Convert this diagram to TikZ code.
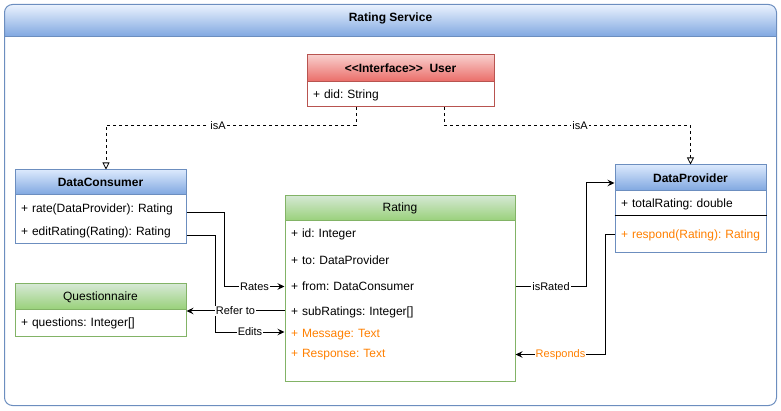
\documentclass[tikz,border=0pt]{standalone}
\usepackage{fontspec}
\setmainfont{Liberation Sans}
\usetikzlibrary{arrows.meta,calc}
\definecolor{bluebd}{HTML}{6C8EBF}
\definecolor{bluetop}{HTML}{DAE8FC}
\definecolor{bluebot}{HTML}{7EA6E0}
\definecolor{greenbd}{HTML}{82B366}
\definecolor{greentop}{HTML}{D5E8D4}
\definecolor{greenbot}{HTML}{97D077}
\definecolor{redbd}{HTML}{B85450}
\definecolor{redtop}{HTML}{F8CECC}
\definecolor{redbot}{HTML}{EA6B66}
\definecolor{orng}{HTML}{FF8000}
\frenchspacing
\begin{document}
\begin{tikzpicture}[x=1pt,y=-1pt,line width=1pt,
  font=\fontsize{12}{14}\selectfont,
  hdr/.style={rectangle,inner sep=0pt},
  bluehdr/.style={hdr,draw=bluebd,top color=bluetop,bottom color=bluebot,font=\fontsize{12}{14}\selectfont\bfseries},
  greenhdr/.style={hdr,draw=greenbd,top color=greentop,bottom color=greenbot},
  redhdr/.style={hdr,draw=redbd,top color=redtop,bottom color=redbot,font=\fontsize{12}{14}\selectfont\bfseries},
  body/.style={rectangle,inner sep=0pt,fill=white},
  row/.style={inner xsep=6pt,inner ysep=0pt,align=left,anchor=center},
  lbl/.style={fill=white,inner sep=1pt,font=\fontsize{11}{13}\selectfont},
  conn/.style={draw=black,line width=1pt,-{Stealth[length=7pt,width=6.5pt,inset=2.5pt]}},
  isa/.style={draw=black,line width=0.8pt,dash pattern=on 3pt off 3pt,-{Triangle[open,length=7pt,width=7pt,line width=0.8pt]}}
]
\useasboundingbox (0,0) rectangle (781,411);
% container
\node[rectangle,inner sep=0pt,fill=white,minimum width=771pt,minimum height=400pt,rounded corners=8pt] (svc) at (390.5,205) {};
\begin{scope}
  \clip[rounded corners=8pt] (svc.north west) rectangle (svc.south east);
  \shade[top color=bluetop!60,bottom color=bluebot] (5,5) rectangle (776,37);
\end{scope}
\draw[bluebd,rounded corners=8pt] (svc.north west) rectangle (svc.south east);
\draw[bluebd] (5,37) -- (776,37);
\node[font=\fontsize{12}{14}\selectfont\bfseries] (title) at (390.5,18) {Rating Service};

% User
\node[redhdr,minimum width=187pt,minimum height=27pt] (uh) at (400.5,68.5) {<\kern0pt<Interface>\kern0pt>\ \ User};
\node[body,draw=redbd,minimum width=187pt,minimum height=25pt] (ub) at (400.5,94.5) {};
\node[row,text width=175pt] (udid) at (400.5,95) {+ did: String};

% DataConsumer
\node[bluehdr,minimum width=171pt,minimum height=25pt] (dch) at (100.5,182.5) {DataConsumer};
\node[body,draw=bluebd,minimum width=171pt,minimum height=49pt] (dcb) at (100.5,219.5) {};
\node[row,text width=159pt] (dcrate) at (100.5,209) {+ rate(DataProvider): Rating};
\node[row,text width=159pt] (dcedit) at (100.5,232.5) {+ editRating(Rating): Rating};

% Questionnaire
\node[greenhdr,minimum width=171pt,minimum height=26pt] (qh) at (100.5,297) {Questionnaire};
\node[body,draw=greenbd,minimum width=171pt,minimum height=26pt] (qb) at (100.5,323) {};
\node[row,text width=159pt] (qrow) at (100.5,323) {+ questions: Integer[]};

% DataProvider
\node[bluehdr,minimum width=151pt,minimum height=26pt] (dph) at (690.5,178) {DataProvider};
\node[body,draw=bluebd,minimum width=151pt,minimum height=62pt] (dpb) at (690.5,222) {};
\begin{scope}
  \clip ([xshift=-4pt]dpb.north east) rectangle (dpb.south west);
  \node[row,text width=139pt] (dptot) at (690.5,204.5) {+ totalRating: double};
  \node[row,text width=139pt,text=orng] (dprsp) at (690.5,235) {\mbox{+ respond(Rating): Rating}};
\end{scope}
\draw[black] ([yshift=-25pt]dpb.north west) -- ([yshift=-25pt]dpb.north east);

% Rating
\node[greenhdr,minimum width=230pt,minimum height=26pt] (rth) at (400,208.5) {Rating};
\node[body,draw=greenbd,minimum width=230pt,minimum height=160pt] (rtb) at (400,301) {};
\node[row,text width=218pt] (rtid) at (400,234.5) {+ id: Integer};
\node[row,text width=218pt] (rtto) at (400,260.5) {+ to: DataProvider};
\node[row,text width=218pt] (rtfrom) at (400,286.5) {+ from: DataConsumer};
\node[row,text width=218pt] (rtsub) at (400,312.5) {+ subRatings: Integer[]};
\node[row,text width=218pt,text=orng] (rtmsg) at (400,335) {+ Message: Text};
\node[row,text width=218pt,text=orng] (rtresp) at (400,354.5) {+ Response: Text};

% isA connectors
\draw[isa] ([xshift=-44.5pt]ub.south) -- ++(0,18) -| node[pos=0.276,lbl]{isA} ([xshift=5.5pt]dch.north);
\draw[isa] ([xshift=43.5pt]ub.south) -- ++(0,18) -| node[pos=0.276,lbl]{isA} (dph.north);

% Rates
\draw[conn] ([yshift=-4pt]dcrate.east) -| ([xshift=-60pt]rtfrom.west) -- node[lbl]{Rates} (rtfrom.west);
% Edits
\coordinate (edA) at ([yshift=3pt]rtmsg.west);
\draw[conn] ([yshift=-3pt]dcedit.east) -| ([xshift=-69pt]edA) -- node[lbl]{Edits} (edA);
% Refer to
\coordinate (refA) at ([yshift=1.5pt]rtsub.west);
\draw[conn] (refA) -- node[lbl]{Refer to} (refA -| qb.east);
% isRated
\draw[conn] (rtfrom.east) -- node[lbl]{isRated} ++(71,0) |- ([yshift=-5pt]dph.west);
% Responds
\draw[conn] (dprsp.west) -- ++(-9,0) |- node[lbl,pos=0.75,text=orng]{Responds} (rtresp.east);
\end{tikzpicture}
\end{document}
